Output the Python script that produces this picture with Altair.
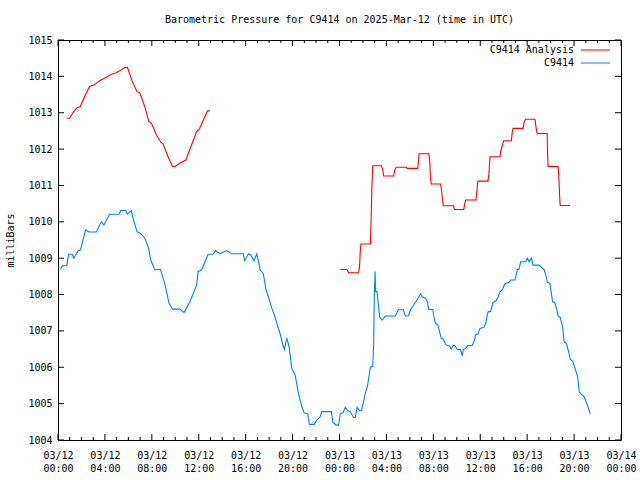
import altair as alt
import pandas as pd

BASE = pd.Timestamp("2025-03-12T00:00:00Z")
MONO = "DejaVu Sans Mono"

# ---- C9414 Analysis (minutes after 03/12 00:00 UTC, mb), two segments
analysis1_min = [45, 59, 73, 93, 114, 136, 162, 184, 213, 238, 273, 299, 324, 341, 355, 381, 404, 418, 444, 464,
                 478, 504, 526, 538, 563, 586, 598, 623, 654, 674, 709, 722, 746, 765, 777]
analysis1_mb = [1012.85, 1012.85, 1012.97, 1013.12, 1013.17, 1013.44, 1013.72, 1013.76, 1013.88, 1013.95,
                1014.06, 1014.10, 1014.18, 1014.24, 1014.25, 1013.85, 1013.58, 1013.55, 1013.17, 1012.77,
                1012.71, 1012.39, 1012.19, 1012.14, 1011.79, 1011.52, 1011.52, 1011.61, 1011.70, 1011.98,
                1012.48, 1012.54, 1012.83, 1013.05, 1013.05]

analysis2_min = [1444, 1478, 1486, 1538, 1543, 1546, 1550, 1598, 1601, 1606, 1610, 1654, 1661, 1666, 1717, 1722,
                 1730, 1782, 1786, 1840, 1844, 1847, 1897, 1902, 1905, 1909, 1957, 1962, 1967, 1971, 2022, 2029,
                 2076, 2081, 2086, 2138, 2141, 2145, 2148, 2199, 2204, 2210, 2261, 2264, 2280, 2319, 2324, 2328,
                 2379, 2384, 2391, 2440, 2446, 2451, 2502, 2504, 2507, 2558, 2562, 2566, 2569, 2620]
analysis2_mb = [1008.69, 1008.69, 1008.60, 1008.60, 1008.81, 1009.18, 1009.39, 1009.39, 1009.91, 1010.99,
                1011.54, 1011.54, 1011.44, 1011.26, 1011.26, 1011.41, 1011.50, 1011.50, 1011.47, 1011.47,
                1011.67, 1011.87, 1011.87, 1011.65, 1011.24, 1011.04, 1011.04, 1010.88, 1010.60, 1010.44,
                1010.44, 1010.34, 1010.34, 1010.51, 1010.60, 1010.60, 1010.74, 1010.99, 1011.12, 1011.12,
                1011.29, 1011.79, 1011.79, 1011.93, 1012.23, 1012.23, 1012.48, 1012.57, 1012.57, 1012.73,
                1012.82, 1012.82, 1012.57, 1012.43, 1012.43, 1011.98, 1011.52, 1011.52, 1011.24, 1010.71,
                1010.45, 1010.45]

# ---- C9414 observations
obs_min = [13, 22, 45, 54, 73, 81, 102, 115, 141, 158, 196, 222, 235, 264, 312, 321, 346, 355, 375, 384,
           404, 422, 444, 464, 474, 495, 524, 546, 568, 586, 623, 645, 675, 709, 717, 735, 768, 794, 806, 828,
           863, 888, 948, 954, 974, 986, 1003, 1017, 1034, 1050, 1064, 1076, 1094, 1110, 1124, 1136, 1148, 1158,
           1170, 1182, 1196, 1213, 1230, 1247, 1259, 1278, 1286, 1311, 1324, 1341, 1350, 1398, 1406, 1423, 1435,
           1444, 1458, 1470, 1481, 1495, 1512, 1521, 1530, 1541, 1552, 1563, 1572, 1584, 1598, 1610, 1615, 1618,
           1622, 1625, 1632, 1645, 1658, 1675, 1700, 1726, 1741, 1767, 1777, 1793, 1803, 1823, 1844, 1854, 1863,
           1880, 1889, 1897, 1917, 1926, 1931, 1943, 1952, 1960, 1971, 1982, 1991, 2003, 2012, 2020, 2030, 2042,
           2059, 2068, 2073, 2085, 2097, 2119, 2131, 2136, 2150, 2158, 2179, 2188, 2196, 2201, 2213, 2225, 2239,
           2251, 2261, 2273, 2285, 2307, 2316, 2338, 2350, 2358, 2367, 2393, 2401, 2410, 2422, 2430, 2461, 2473,
           2487, 2495, 2504, 2516, 2525, 2530, 2541, 2552, 2558, 2569, 2581, 2589, 2601, 2612, 2620, 2632, 2644,
           2658, 2666, 2675, 2692, 2704, 2714, 2723]
obs_mb = [1008.69, 1008.79, 1008.80, 1009.11, 1009.11, 1009.00, 1009.20, 1009.23, 1009.78, 1009.72,
          1009.72, 1010.00, 1009.91, 1010.21, 1010.21, 1010.31, 1010.31, 1010.21, 1010.31, 1010.10,
          1009.73, 1009.68, 1009.55, 1009.27, 1008.95, 1008.69, 1008.69, 1008.31, 1007.76, 1007.60,
          1007.60, 1007.51, 1007.80, 1008.26, 1008.63, 1008.68, 1009.11, 1009.11, 1009.21, 1009.12,
          1009.21, 1009.12, 1009.12, 1008.93, 1009.12, 1009.09, 1008.93, 1009.12, 1008.68, 1008.58,
          1008.13, 1007.94, 1007.62, 1007.39, 1007.12, 1006.93, 1006.66, 1006.49, 1006.80, 1006.57,
          1005.97, 1005.79, 1005.28, 1004.92, 1004.75, 1004.72, 1004.43, 1004.43, 1004.55, 1004.64,
          1004.78, 1004.78, 1004.49, 1004.41, 1004.41, 1004.72, 1004.75, 1004.90, 1004.81, 1004.78,
          1004.62, 1004.62, 1004.90, 1004.81, 1004.81, 1005.05, 1005.28, 1005.51, 1006.00, 1006.02,
          1006.66, 1007.99, 1008.63, 1008.08, 1008.08, 1007.39, 1007.30, 1007.41, 1007.41, 1007.41,
          1007.58, 1007.58, 1007.41, 1007.41, 1007.58, 1007.74, 1007.91, 1008.02, 1007.94, 1007.90,
          1007.80, 1007.59, 1007.59, 1007.30, 1007.21, 1007.16, 1006.98, 1006.80, 1006.77, 1006.64,
          1006.60, 1006.59, 1006.49, 1006.60, 1006.60, 1006.49, 1006.49, 1006.31, 1006.48, 1006.52,
          1006.60, 1006.60, 1006.75, 1006.89, 1006.93, 1007.07, 1007.10, 1007.21, 1007.44, 1007.53,
          1007.53, 1007.78, 1007.82, 1007.92, 1008.08, 1008.13, 1008.29, 1008.34, 1008.40, 1008.40,
          1008.69, 1008.69, 1008.90, 1008.90, 1009.00, 1008.90, 1009.00, 1008.81, 1008.81, 1008.75,
          1008.68, 1008.54, 1008.33, 1008.31, 1007.99, 1007.80, 1007.78, 1007.58, 1007.41, 1007.37,
          1007.12, 1006.70, 1006.66, 1006.43, 1006.22, 1006.17, 1005.99, 1005.74, 1005.33, 1005.27,
          1005.19, 1005.01, 1004.87, 1004.72]

series_names = ["C9414 Analysis", "C9414"]
series_colors = ["#ff0000", "#0080ff"]
y_ticks = list(range(1004, 1016))
x_major_hours = list(range(0, 49, 4))
x_minor_hours = [h for h in range(0, 49) if h % 4 != 0]


def iso(mins):
    return [(BASE + pd.Timedelta(minutes=m)).strftime("%Y-%m-%dT%H:%M:%SZ") for m in mins]


frames = []
for mins, vals, name, seg in [(analysis1_min, analysis1_mb, series_names[0], "a1"),
                              (analysis2_min, analysis2_mb, series_names[0], "a2"),
                              (obs_min, obs_mb, series_names[1], "o")]:
    frames.append(pd.DataFrame({"t": iso(mins), "p": vals, "series": name, "seg": seg}))
df = pd.concat(frames, ignore_index=True)

major_df = pd.DataFrame({"t": iso([h * 60 for h in x_major_hours])})
minor_df = pd.DataFrame({"t": iso([h * 60 for h in x_minor_hours])})
ytick_df = pd.DataFrame({"p": y_ticks})
legend_df = pd.DataFrame({"name": series_names, "color": series_colors})

ms = lambda h: int((BASE + pd.Timedelta(hours=h)).timestamp() * 1000)
xscale = alt.Scale(type="utc", domain=[ms(0), ms(48)], nice=False)
yscale = alt.Scale(domain=[1004, 1015], nice=False, zero=False)

xaxis = alt.Axis(values=[ms(h) for h in x_major_hours],
                 labelExpr="[utcFormat(datum.value, '%m/%d'), utcFormat(datum.value, '%H:%M')]",
                 ticks=False, tickSize=0, domain=False, grid=False, title=None,
                 labelFont=MONO, labelFontSize=10, labelColor="black", labelPadding=10,
                 labelLineHeight=13, labelAngle=0, labelFlush=False, labelOverlap=False,
                 labelBaseline="top")
yaxis = alt.Axis(values=y_ticks, format="d", ticks=False, tickSize=0, domain=False, grid=False,
                 title="milliBars", titleFont=MONO, titleFontSize=10, titleFontWeight="normal",
                 titleColor="black", titlePadding=12,
                 labelFont=MONO, labelFontSize=10, labelColor="black", labelPadding=6)

X = alt.X("t:T", scale=xscale, axis=xaxis)
Y = alt.Y("p:Q", scale=yscale, axis=yaxis)

lines = alt.Chart(df).mark_line(strokeWidth=1.1, interpolate="linear").encode(
    x=X, y=Y,
    color=alt.Color("series:N", scale=alt.Scale(domain=series_names, range=series_colors), legend=None),
    detail="seg:N",
)

H = 400
W = 563
tick_layers = []
for data, ln in [(major_df, 6), (minor_df, 3)]:
    tick_layers.append(alt.Chart(data).mark_rule(color="black", strokeWidth=1).encode(
        x=X, y=alt.value(H), y2=alt.value(H - ln)))
    tick_layers.append(alt.Chart(data).mark_rule(color="black", strokeWidth=1).encode(
        x=X, y=alt.value(0), y2=alt.value(ln)))
tick_layers.append(alt.Chart(ytick_df).mark_rule(color="black", strokeWidth=1).encode(
    y=Y, x=alt.value(0), x2=alt.value(6)))
tick_layers.append(alt.Chart(ytick_df).mark_rule(color="black", strokeWidth=1).encode(
    y=Y, x=alt.value(W - 6), x2=alt.value(W)))

legend_layers = []
for i, (name, col) in enumerate(zip(series_names, series_colors)):
    ypos = 10 + 13 * i
    legend_layers.append(alt.Chart(legend_df).transform_filter(alt.datum.name == name).mark_text(
        align="right", baseline="middle", font=MONO, fontSize=10, color="black").encode(
        text="name:N", x=alt.value(516), y=alt.value(ypos)))
    legend_layers.append(alt.Chart(legend_df).transform_filter(alt.datum.name == name).mark_rule(
        color=col, strokeWidth=1).encode(x=alt.value(523), x2=alt.value(552), y=alt.value(ypos)))

chart = alt.layer(lines, *tick_layers, *legend_layers).properties(
    width=W, height=H,
    title=alt.TitleParams("Barometric Pressure for C9414 on 2025-Mar-12 (time in UTC)",
                          font=MONO, fontSize=10, fontWeight="normal", color="black",
                          anchor="middle", offset=10),
    autosize=alt.AutoSizeParams(type="none"),
    padding={"left": 58, "top": 40, "right": 19, "bottom": 40},
    background="white",
).configure_view(stroke="black", strokeWidth=1)

chart.save("out.html", embed_options={"renderer": "svg", "actions": False})
